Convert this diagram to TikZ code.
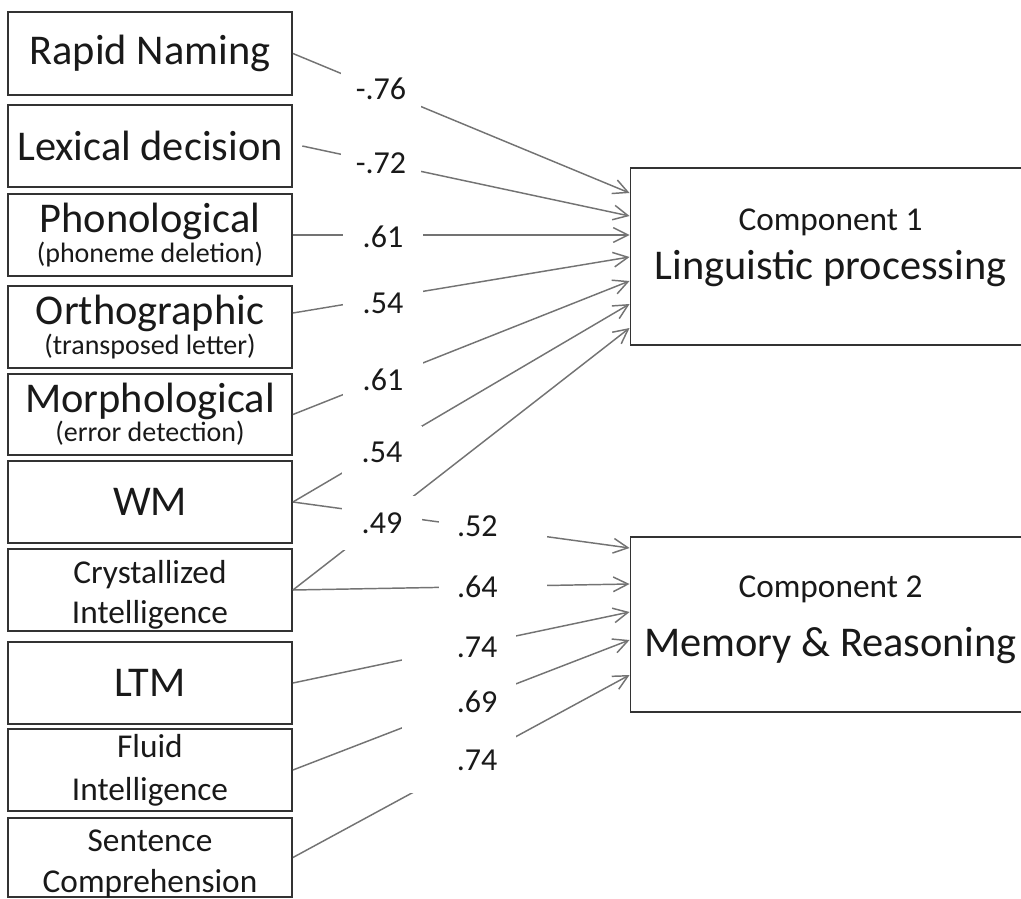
\documentclass[tikz,border=0pt]{standalone}
\usepackage{fontspec}
\setmainfont{Carlito}
\usetikzlibrary{arrows.meta}

\newcommand{\bigtxt}{\fontsize{31.8pt}{36pt}\selectfont}
\newcommand{\midtxt}{\fontsize{25pt}{29pt}\selectfont}
\newcommand{\smalltxt}{\fontsize{21pt}{24pt}\selectfont}
\newcommand{\wtxt}{\fontsize{24pt}{28pt}\selectfont}

\begin{document}
\begin{tikzpicture}[
      x=0.75pt, y=-0.75pt,
      test/.style={rectangle, draw=black!80, line width=1.4pt, minimum width=213pt, minimum height=61pt, inner sep=0pt, align=center, text=black!90},
      comp/.style={rectangle, draw=black!80, line width=1.4pt, minimum width=300pt, inner sep=0pt, align=center, text=black!90},
      load/.style={draw=black!55, line width=1.1pt, -{Straight Barb[length=11pt,width=11pt,line width=1.1pt]}},
      wgt/.style={fill=white, inner sep=0pt, minimum width=60pt, minimum height=39pt, font=\wtxt, text=black!90},
      wgtb/.style={fill=white, inner xsep=13.5pt, inner ysep=0pt, text width=54pt, align=left, minimum height=37pt, font=\wtxt, text=black!90},
      wgtc/.style={fill=white, inner xsep=14pt, inner ysep=0pt, text width=57.5pt, align=right, minimum height=49pt, font=\wtxt, text=black!90}
    ]
      \useasboundingbox (0,0) rectangle (1021,899);
      % observed measures
      \node[test, minimum height=62pt] (rapid) at (150,53.5) {\bigtxt Rapid Naming};
      \node[test] (lexdec) at (150,146) {\bigtxt Lexical decision};
      \node[test] (phon) at (150,235) {{\bigtxt Phonological}\\[0.5pt]{\smalltxt (phoneme deletion)}};
      \node[test] (orth) at (150,327) {{\bigtxt Orthographic}\\[0pt]{\smalltxt (transposed letter)}};
      \node[test] (morph) at (150,414.5) {{\bigtxt Morphological}\\[0pt]{\smalltxt (error detection)}};
      \node[test] (wm) at (150,502) {\bigtxt WM};
      \node[test, text height=55pt, text depth=5pt] (cryst) at (150,590) {{\midtxt Crystallized}\\[7.5pt]{\midtxt Intelligence}};
      \node[test] (ltm) at (150,683) {\bigtxt LTM};
      \node[test] (fluid) at (150,770) {{\midtxt Fluid}\\[14pt]{\midtxt Intelligence}};
      \node[test, minimum height=59pt, text height=52.5pt, text depth=0pt] (sent) at (150,857.5) {{\midtxt Sentence}\\[12pt]{\midtxt Comprehension}};

      % components
      \node[comp, minimum height=133pt, text depth=18pt] (comp1) at (830.5,256.5) {{\midtxt Component 1}\\[10pt]{\bigtxt Linguistic processing}};
      \node[comp, minimum height=131pt, text depth=12pt] (comp2) at (830.5,624.5) {{\midtxt Component 2}\\[17.5pt]{\bigtxt Memory \& Reasoning}};

      % loadings on component 1
      \draw[load] (rapid.east) -- (comp1.west |- 0,193);
      \draw[load] ([xshift=7pt]lexdec.east) -- (comp1.west |- 0,216);
      \draw[load] (phon.east) -- (comp1.west |- 0,235);
      \draw[load] (orth.east |- 0,313) -- (comp1.west |- 0,257);
      \draw[load] (morph.east) -- (comp1.west |- 0,281);
      \draw[load] (wm.east) -- (comp1.west |- 0,304);
      \draw[load] (cryst.east) -- (comp1.west |- 0,328);

      % loadings on component 2
      \draw[load] (wm.east) -- (comp2.west |- 0,548);
      \draw[load] (cryst.east) -- (comp2.west |- 0,584);
      \draw[load] (ltm.east) -- (comp2.west |- 0,612);
      \draw[load] (fluid.east) -- (comp2.west |- 0,640);
      \draw[load] (sent.east) -- (comp2.west |- 0,675);

      % weights
      \node[wgt] (w-rapid) at (381,89) {-.76};
      \node[wgt] (w-lexdec) at (381,163) {-.72};
      \node[wgt] (w-phon) at (383,237) {.61};
      \node[wgt] (w-orth) at (383,303) {.54};
      \node[wgt] (w-morph) at (383,380) {.61};
      \node[wgt] (w-wm1) at (382,452) {.54};
      \node[wgt, minimum height=40pt] (w-cryst1) at (382,523) {.49};
      \node[wgtb] (w-wm2) at (493,526) {.52};
      \node[wgtb] (w-cryst2) at (493,587) {.64};
      \node[wgtc] (w-ltm) at (459,647) {.74};
      \node[wgtc] (w-fluid) at (459,702) {.69};
      \node[wgtc] (w-sent) at (459,760) {.74};
    \end{tikzpicture}
\end{document}
